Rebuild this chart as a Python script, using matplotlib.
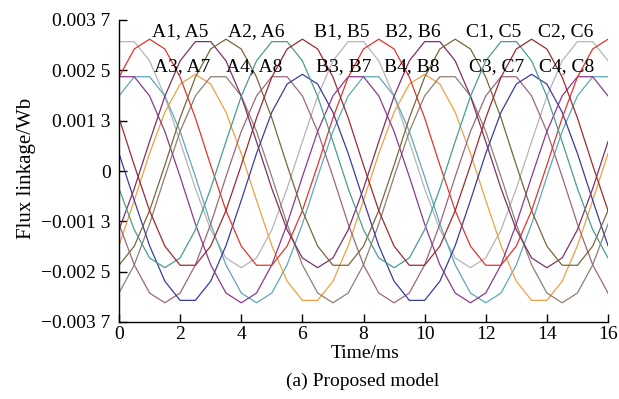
import numpy as np
import matplotlib
matplotlib.use('Agg')
import matplotlib.pyplot as plt

plt.rcParams.update({
    'font.family': ['Liberation Serif', 'DejaVu Serif'],
    'font.size': 14,
    'axes.linewidth': 1.0,
})

# sample times (ms), one point every 0.5 ms
time_ms = np.linspace(0, 16, 33)

# flux linkage, in units of 1e-4 Wb
flux_a1 = [23.0, 29.9, 32.3, 29.9, 23.0, 13.0, 1.4, -9.7, -18.4, -23.1, -23.1, -18.4, -9.7, 1.4, 13.0,
           23.0, 29.9, 32.3, 29.9, 23.0, 13.0, 1.4, -9.7, -18.4, -23.1, -23.1, -18.4, -9.7, 1.4, 13.0,
           23.0, 29.9, 32.3]
flux_a2 = [-14.4, -4.3, 7.2, 18.3, 27.0, 31.7, 31.7, 27.0, 18.3, 7.2, -4.3, -14.4, -21.3, -23.7, -21.3,
           -14.4, -4.3, 7.2, 18.3, 27.0, 31.7, 31.7, 27.0, 18.3, 7.2, -4.3, -14.4, -21.3, -23.7, -21.3,
           -14.4, -4.3, 7.2]
flux_a3 = [18.4, 23.1, 23.1, 18.4, 9.7, -1.4, -13.0, -23.0, -29.9, -32.3, -29.9, -23.0, -13.0, -1.4, 9.7,
           18.4, 23.1, 23.1, 18.4, 9.7, -1.4, -13.0, -23.0, -29.9, -32.3, -29.9, -23.0, -13.0, -1.4, 9.7,
           18.4, 23.1, 23.1]
flux_a4 = [-18.3, -7.2, 4.3, 14.4, 21.3, 23.7, 21.3, 14.4, 4.3, -7.2, -18.3, -27.0, -31.7, -31.7, -27.0,
           -18.3, -7.2, 4.3, 14.4, 21.3, 23.7, 21.3, 14.4, 4.3, -7.2, -18.3, -27.0, -31.7, -31.7, -27.0,
           -18.3, -7.2, 4.3]
flux_b1 = [-23.1, -18.4, -9.7, 1.4, 13.0, 23.0, 29.9, 32.3, 29.9, 23.0, 13.0, 1.4, -9.7, -18.4, -23.1,
           -23.1, -18.4, -9.7, 1.4, 13.0, 23.0, 29.9, 32.3, 29.9, 23.0, 13.0, 1.4, -9.7, -18.4, -23.1,
           -23.1, -18.4, -9.7]
flux_b2 = [-4.3, -14.4, -21.3, -23.7, -21.3, -14.4, -4.3, 7.2, 18.3, 27.0, 31.7, 31.7, 27.0, 18.3, 7.2,
           -4.3, -14.4, -21.3, -23.7, -21.3, -14.4, -4.3, 7.2, 18.3, 27.0, 31.7, 31.7, 27.0, 18.3, 7.2,
           -4.3, -14.4, -21.3]
flux_b3 = [-29.9, -23.0, -13.0, -1.4, 9.7, 18.4, 23.1, 23.1, 18.4, 9.7, -1.4, -13.0, -23.0, -29.9, -32.3,
           -29.9, -23.0, -13.0, -1.4, 9.7, 18.4, 23.1, 23.1, 18.4, 9.7, -1.4, -13.0, -23.0, -29.9, -32.3,
           -29.9, -23.0, -13.0]
flux_b4 = [-13.0, -23.0, -29.9, -32.3, -29.9, -23.0, -13.0, -1.4, 9.7, 18.4, 23.1, 23.1, 18.4, 9.7, -1.4,
           -13.0, -23.0, -29.9, -32.3, -29.9, -23.0, -13.0, -1.4, 9.7, 18.4, 23.1, 23.1, 18.4, 9.7, -1.4,
           -13.0, -23.0, -29.9]
flux_c1 = [13.0, 1.4, -9.7, -18.4, -23.1, -23.1, -18.4, -9.7, 1.4, 13.0, 23.0, 29.9, 32.3, 29.9, 23.0,
           13.0, 1.4, -9.7, -18.4, -23.1, -23.1, -18.4, -9.7, 1.4, 13.0, 23.0, 29.9, 32.3, 29.9, 23.0,
           13.0, 1.4, -9.7]
flux_c2 = [31.7, 31.7, 27.0, 18.3, 7.2, -4.3, -14.4, -21.3, -23.7, -21.3, -14.4, -4.3, 7.2, 18.3, 27.0,
           31.7, 31.7, 27.0, 18.3, 7.2, -4.3, -14.4, -21.3, -23.7, -21.3, -14.4, -4.3, 7.2, 18.3, 27.0,
           31.7, 31.7, 27.0]
flux_c3 = [4.3, -7.2, -18.3, -27.0, -31.7, -31.7, -27.0, -18.3, -7.2, 4.3, 14.4, 21.3, 23.7, 21.3, 14.4,
           4.3, -7.2, -18.3, -27.0, -31.7, -31.7, -27.0, -18.3, -7.2, 4.3, 14.4, 21.3, 23.7, 21.3, 14.4,
           4.3, -7.2, -18.3]
flux_c4 = [23.1, 23.1, 18.4, 9.7, -1.4, -13.0, -23.0, -29.9, -32.3, -29.9, -23.0, -13.0, -1.4, 9.7, 18.4,
           23.1, 23.1, 18.4, 9.7, -1.4, -13.0, -23.0, -29.9, -32.3, -29.9, -23.0, -13.0, -1.4, 9.7, 18.4,
           23.1, 23.1, 18.4]

curves = [
    (flux_c2, '#b5b5b5'),
    (flux_a3, '#5fa8b5'),
    (flux_a4, '#f0a040'),
    (flux_b3, '#8f7f70'),
    (flux_b4, '#9c6878'),
    (flux_c3, '#3a3c9c'),
    (flux_c4, '#8a3a8c'),
    (flux_a1, '#e0352c'),
    (flux_a2, '#7e3068'),
    (flux_b1, '#76683a'),
    (flux_b2, '#4a9c92'),
    (flux_c1, '#9a2c30'),
]

# coil group labels (x in ms, y in Wb)
group_labels = ['A1, A5', 'A2, A6', 'B1, B5', 'B2, B6', 'C1, C5', 'C2, C6',
                'A3, A7', 'A4, A8', 'B3, B7', 'B4, B8', 'C3, C7', 'C4, C8']
label_x = [2.0, 4.48, 7.3, 9.62, 12.27, 14.63,
           2.06, 4.42, 7.36, 9.59, 12.34, 14.66]
label_y = [0.00341] * 6 + [0.00255] * 6

y_ticks = np.linspace(-0.0037, 0.0037, 7)
y_ticklabels = ['\u22120.003 7', '\u22120.002 5', '\u22120.001 3', '0',
                '0.001 3', '0.002 5', '0.003 7']
x_ticks = [0, 2, 4, 6, 8, 10, 12, 14, 16]

fig = plt.figure(figsize=(6.19, 3.99), dpi=100)
ax = fig.add_axes([119 / 619, 1 - 322 / 399, 489 / 619, 302 / 399])

for values, color in curves:
    ax.plot(time_ms, np.array(values) * 1e-4, color=color, lw=0.9)

for txt, x, y in zip(group_labels, label_x, label_y):
    ax.text(x, y, txt, ha='center', va='center', fontsize=14)

ax.set_xlim(0, 16)
ax.set_ylim(-0.0037, 0.0037)
ax.set_xticks(x_ticks)
ax.set_yticks(y_ticks)
ax.set_yticklabels(y_ticklabels)
ax.tick_params(direction='in', length=6, width=1.0, labelsize=14)
ax.tick_params(axis='x', pad=3)
ax.tick_params(axis='y', pad=6)
ax.spines['top'].set_visible(False)
ax.spines['right'].set_visible(False)

fig.text(26 / 619, 1 - 168 / 399, 'Flux linkage/Wb', rotation=90,
         ha='center', va='center', fontsize=15)
fig.text(365 / 619, 1 - 354 / 399, 'Time/ms', ha='center', va='center', fontsize=14)
fig.text(363 / 619, 1 - 381 / 399, '(a) Proposed model', ha='center', va='center', fontsize=14)

fig.savefig('out.png', dpi=100)
